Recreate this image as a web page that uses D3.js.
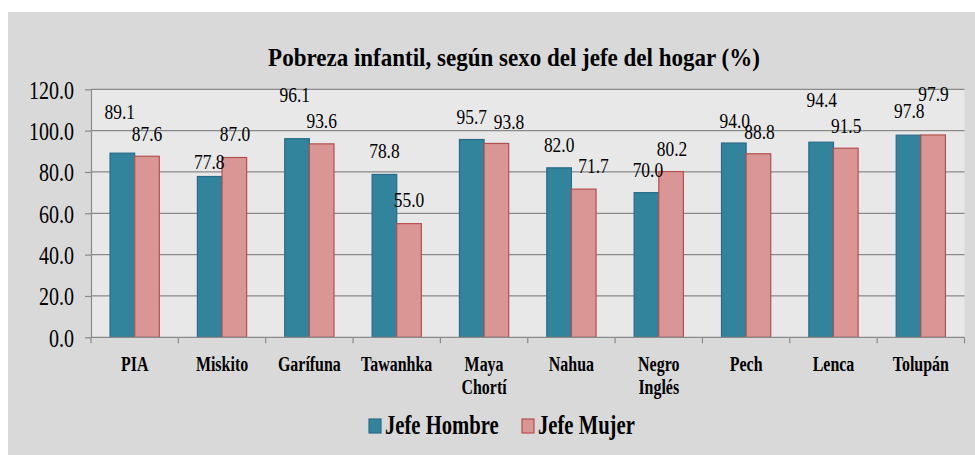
<!DOCTYPE html>
<html>
<head>
<meta charset="utf-8">
<script src="https://cdn.jsdelivr.net/npm/d3@7"></script>
</head>
<body style="margin:0;padding:0;background:#ffffff">
<svg id="chart" width="975" height="455" font-family="Liberation Serif" style="display:block"></svg>
<script>
// ---- data ----
const categories = ["PIA", "Miskito", "Garífuna", "Tawanhka", "Maya\nChortí", "Nahua", "Negro\nInglés", "Pech", "Lenca", "Tolupán"];
const seriesNames = ["Jefe Hombre", "Jefe Mujer"];
const jefeHombre = [89.1, 77.8, 96.1, 78.8, 95.7, 82.0, 70.0, 94.0, 94.4, 97.8];
const jefeMujer  = [87.6, 87.0, 93.6, 55.0, 93.8, 71.7, 80.2, 88.8, 91.5, 97.9];
const yTicks = [0, 20, 40, 60, 80, 100, 120];
const titleText = "Pobreza infantil, según sexo del jefe del hogar (%)";

// ---- label layout (pixel nudges as in the original, to avoid overlaps) ----
const liftH = [34, 8, 37, 16, 16, 15.5, 15.3, 14.7, 35.5, 17];
const shiftH = [-2.6, -0.4, -2.3, 0, 0, 0, 1.4, 0.9, 0.6, 0.8];
const liftM = [15, 16.5, 15.6, 16.3, 14.4, 16.4, 15.6, 14.8, 15.5, 34.3];
const shiftM = [0, 0.7, 0, 0, 12.7, 9.8, 0.9, 1.1, 0.4, 0.4];

const FONT = "Liberation Serif";
const colors = { "Jefe Hombre": "#31849b", "Jefe Mujer": "#d99694" };
const strokes = { "Jefe Hombre": "#2a6a8a", "Jefe Mujer": "#b4504e" };

const svg = d3.select("#chart");
const W = 975, H = 455;

// outer chart area
svg.append("rect").attr("x", 8).attr("y", 12).attr("width", W - 8).attr("height", H - 12)
  .attr("fill", "#d9d9d9");

const plot = { left: 91, right: 964.5, top: 89.3, bottom: 337.3 };

svg.append("rect").attr("x", plot.left).attr("y", plot.top)
  .attr("width", plot.right - plot.left).attr("height", plot.bottom - plot.top)
  .attr("fill", "#e8e8e8");

const x = d3.scaleBand().domain(categories).range([plot.left, plot.right]).paddingInner(0).paddingOuter(0);
const step = x.bandwidth();
const xs = d3.scaleBand().domain(seriesNames).range([step * 0.218, step * 0.782]).padding(0);
const y = d3.scaleLinear().domain([0, 120]).range([plot.bottom, plot.top]);

// gridlines
svg.append("g").selectAll("line").data(yTicks.filter(d => d > 0)).join("line")
  .attr("x1", plot.left).attr("x2", plot.right)
  .attr("y1", d => y(d)).attr("y2", d => y(d))
  .attr("stroke", "#8a8a8a").attr("stroke-width", 1.2);

// y axis
const yAxis = svg.append("g").attr("transform", `translate(${plot.left},0)`)
  .call(d3.axisLeft(y).tickValues(yTicks).tickSize(6).tickSizeOuter(0).tickFormat(d3.format(".1f")));
yAxis.attr("font-family", FONT);
yAxis.select(".domain").attr("stroke", "#8a8a8a").attr("stroke-width", 1.2);
yAxis.selectAll(".tick line").attr("stroke", "#8a8a8a").attr("stroke-width", 1.2);
yAxis.selectAll(".tick text")
  .attr("font-family", FONT).attr("font-size", 25)
  .attr("transform", "scale(0.8,1)")
  .attr("x", -17 / 0.8).attr("dy", 9).attr("fill", "#000");

// bars
const data = categories.map((c, i) => ({ cat: c, i, vals: [
  { s: seriesNames[0], v: jefeHombre[i], lift: liftH[i], shift: shiftH[i] },
  { s: seriesNames[1], v: jefeMujer[i], lift: liftM[i], shift: shiftM[i] }
]}));

const groups = svg.append("g").selectAll("g").data(data).join("g")
  .attr("transform", d => `translate(${x(d.cat)},0)`);

groups.selectAll("rect").data(d => d.vals).join("rect")
  .attr("x", d => xs(d.s)).attr("width", xs.bandwidth())
  .attr("y", d => y(d.v)).attr("height", d => y(0) - y(d.v))
  .attr("fill", d => colors[d.s]).attr("stroke", d => strokes[d.s]).attr("stroke-width", 1.2);

// value labels
groups.selectAll("text.val").data(d => d.vals).join("text").attr("class", "val")
  .attr("transform", d => `translate(${xs(d.s) + xs.bandwidth() / 2 + d.shift},${y(d.v) - d.lift}) scale(0.81,1)`)
  .attr("text-anchor", "middle").attr("font-size", 21.5).attr("font-family", FONT).attr("fill", "#000")
  .text(d => d3.format(".1f")(d.v));

// x axis line and ticks
svg.append("line").attr("x1", plot.left).attr("x2", plot.right)
  .attr("y1", plot.bottom).attr("y2", plot.bottom)
  .attr("stroke", "#8a8a8a").attr("stroke-width", 1.2);
const bounds = categories.map(c => x(c)).concat([x(categories[categories.length - 1]) + step]);
svg.append("g").selectAll("line").data(bounds).join("line")
  .attr("x1", d => d).attr("x2", d => d)
  .attr("y1", plot.bottom).attr("y2", plot.bottom + 6)
  .attr("stroke", "#8a8a8a").attr("stroke-width", 1.2);

// category labels
groups.each(function(d) {
  const lines = d.cat.split("\n");
  const g = d3.select(this);
  lines.forEach((ln, k) => {
    g.append("text")
      .attr("transform", `translate(${step / 2},${371 + k * 23}) scale(0.76,1)`)
      .attr("text-anchor", "middle").attr("font-weight", "bold").attr("font-size", 21)
      .attr("font-family", FONT).attr("fill", "#000")
      .text(ln);
  });
});

// title
const title = svg.append("text")
  .attr("text-anchor", "middle").attr("font-weight", "bold").attr("font-size", 25)
  .attr("font-family", FONT).attr("fill", "#000")
  .text(titleText);
const tw = title.node().getComputedTextLength();
const tsx = 492 / tw;
title.attr("transform", `translate(514,66) scale(${tsx},1)`);

// legend
const legendX = [369, 522];
const legend = svg.append("g").selectAll("g").data(seriesNames).join("g")
  .attr("transform", (d, i) => `translate(${legendX[i]},0)`);
legend.append("rect").attr("x", 0).attr("y", 419).attr("width", 12).attr("height", 14)
  .attr("fill", d => colors[d]).attr("stroke", d => strokes[d]).attr("stroke-width", 1.2);
legend.append("text")
  .attr("transform", "translate(16,434) scale(0.765,1)")
  .attr("font-weight", "bold").attr("font-size", 27).attr("font-family", FONT).attr("fill", "#000")
  .text(d => d);
</script>
</body>
</html>
